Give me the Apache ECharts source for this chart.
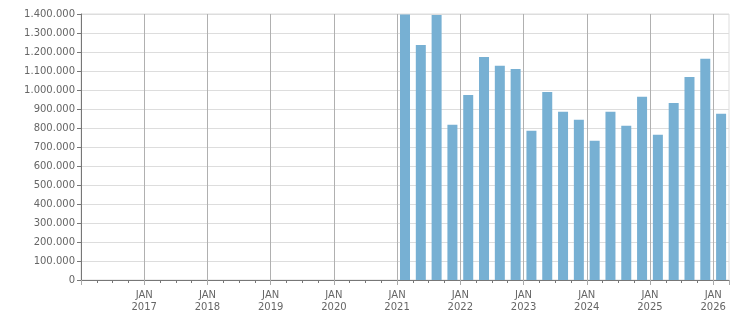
<!DOCTYPE html>
<html>
<head>
<meta charset="utf-8">
<script src="https://cdn.jsdelivr.net/npm/echarts@6/dist/echarts.min.js"></script>
<style>
html,body{margin:0;padding:0;background:#fff;}
#chart{width:751px;height:313px;}
</style>
</head>
<body>
<div id="chart"></div>
<script>
// Quarterly data (value per quarter)
const quarters = ['2021 Q1','2021 Q2','2021 Q3','2021 Q4',
                  '2022 Q1','2022 Q2','2022 Q3','2022 Q4',
                  '2023 Q1','2023 Q2','2023 Q3','2023 Q4',
                  '2024 Q1','2024 Q2','2024 Q3','2024 Q4',
                  '2025 Q1','2025 Q2','2025 Q3','2025 Q4',
                  '2026 Q1'];
const values = [1398000, 1237000, 1395000, 817000,
                974000, 1174000, 1127000, 1111000,
                785000, 990000, 885000, 843000,
                733000, 885000, 812000, 964000,
                764000, 932000, 1069000, 1164000,
                875000];
const startYear = 2016;          // axis starts January 2016
const endQuarterIndex = 41;      // axis ends April 2026 (quarters since start)
const yTicks = [0, 1400000, 100000]; // min, max, step

function quarterIndex(label) {
  const parts = label.split(' Q');
  return (parseInt(parts[0], 10) - startYear) * 4 + (parseInt(parts[1], 10) - 1) + 0.5;
}
const seriesData = quarters.map((q, i) => [quarterIndex(q), values[i]]);

function fmtThousands(v) {
  return String(v).replace(/\B(?=(\d{3})+(?!\d))/g, '.');
}

const font = 'DejaVu Sans';
const chart = echarts.init(document.getElementById('chart'), null, {renderer: 'canvas'});
chart.setOption({
  animation: false,
  grid: {left: 81, right: 22, top: 14, bottom: 32, show: true, borderColor: '#dddddd', borderWidth: 1, backgroundColor: 'transparent'},
  xAxis: {
    type: 'value',
    min: 0,
    max: endQuarterIndex,
    interval: 4,
    axisLine: {show: true, lineStyle: {color: '#777777', width: 1}},
    axisTick: {show: true, length: 5, lineStyle: {color: '#aaaaaa'}},
    minorTick: {show: true, splitNumber: 4, length: 3, lineStyle: {color: '#777777'}},
    splitLine: {show: true, showMinLine: false, showMaxLine: false, lineStyle: {color: '#b0b0b0', width: 1}},
    axisLabel: {
      show: true,
      showMinLabel: false,
      showMaxLabel: false,
      margin: 9,
      color: '#666666',
      fontFamily: font,
      fontSize: 10,
      lineHeight: 12,
      formatter: v => (v % 4 === 0 ? 'JAN\n' + (startYear + v / 4) : '')
    }
  },
  yAxis: {
    type: 'value',
    min: yTicks[0],
    max: yTicks[1],
    interval: yTicks[2],
    axisLine: {show: true, lineStyle: {color: '#777777', width: 1}},
    axisTick: {show: true, length: 4, lineStyle: {color: '#777777'}},
    splitLine: {show: true, lineStyle: {color: '#dddddd', width: 1}},
    axisLabel: {
      margin: 6,
      color: '#666666',
      fontFamily: font,
      fontSize: 10,
      formatter: v => fmtThousands(v)
    }
  },
  series: [{
    type: 'bar',
    data: seriesData,
    barWidth: 10,
    itemStyle: {color: '#77b0d3'}
  }]
});
</script>
</body>
</html>
